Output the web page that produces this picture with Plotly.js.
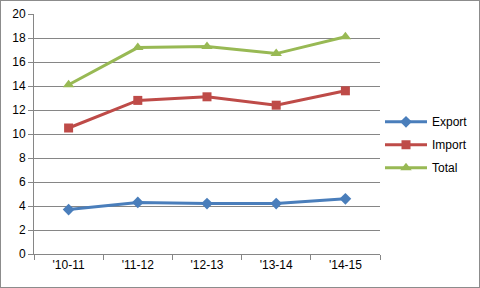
<!DOCTYPE html>
<html><head><meta charset="utf-8">
<script src="https://cdn.plot.ly/plotly-3.0.1.min.js"></script>
<style>
html,body{margin:0;padding:0;background:#fff;}
#c{width:478px;height:286px;border:1px solid #8c8c8c;}
</style></head>
<body><div id="c"></div>
<script>
var categories = ["'10-11","'11-12","'12-13","'13-14","'14-15"];
var exportVals = [3.7, 4.3, 4.2, 4.2, 4.6];
var importVals = [10.5, 12.8, 13.1, 12.4, 13.6];
var totalVals = [14.1, 17.2, 17.3, 16.7, 18.1];
var yTicks = [0,2,4,6,8,10,12,14,16,18,20];

var traces = [
 {x:categories,y:exportVals,name:'Export',legendgroup:'a',type:'scatter',mode:'lines+markers',
  line:{color:'#4a7ebb',width:3},marker:{symbol:'diamond',size:9,color:'#4a7ebb'}},
 {x:categories,y:importVals,name:'Import',legendgroup:'b',type:'scatter',mode:'lines+markers',
  line:{color:'#be4b48',width:3},marker:{symbol:'square',size:9,color:'#be4b48'}},
 {x:categories,y:totalVals,name:'Total',legendgroup:'c',type:'scatter',mode:'lines+markers',
  line:{color:'#98b954',width:3},marker:{symbol:'triangle-up',size:10,color:'#98b954'}}
];
var layout = {
 width:478,height:286,
 margin:{l:33,r:99,t:13,b:33,autoexpand:false},
 paper_bgcolor:'#fff',plot_bgcolor:'#fff',
 font:{family:'Liberation Sans, Arial, sans-serif',size:12,color:'#000'},
 showlegend:true,
 legend:{x:1.0,xanchor:'left',y:0.455,yanchor:'middle',font:{size:12},traceorder:'grouped',tracegroupgap:4,itemwidth:42},
 xaxis:{type:'category',range:[-0.5,4.5],tickson:'boundaries',ticks:'outside',ticklen:5,
   tickcolor:'#868686',showline:true,linecolor:'#868686',showgrid:false,zeroline:false,fixedrange:true},
 yaxis:{range:[0,20],tickvals:yTicks,ticks:'outside',ticklen:5,tickcolor:'#868686',
   showline:true,linecolor:'#868686',showgrid:true,gridcolor:'#868686',gridwidth:1,zeroline:false,fixedrange:true}
};
Plotly.newPlot('c',traces,layout,{displayModeBar:false,staticPlot:true});
</script></body></html>
